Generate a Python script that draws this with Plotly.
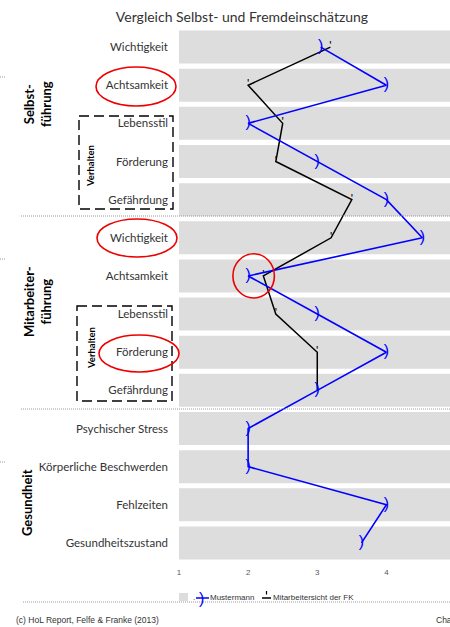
import plotly.graph_objects as go

# ---- data -----------------------------------------------------------------
categories = [
    "Wichtigkeit", "Achtsamkeit", "Lebensstil", "Förderung", "Gefährdung",
    "Wichtigkeit", "Achtsamkeit", "Lebensstil", "Förderung", "Gefährdung",
    "Psychischer Stress", "Körperliche Beschwerden", "Fehlzeiten", "Gesundheitszustand",
]
mustermann = [3.05, 4.0, 2.0, 3.0, 4.0, 4.52, 2.0, 3.0, 4.0, 3.0, 2.0, 2.0, 4.0, 3.64]
fk_sicht = [3.19, 2.0, 2.5, 2.4, 3.5, 3.2, 2.22, 2.4, 3.0, 3.0, None, None, None, None]
scale_max = [5, 5, 5, 5, 5, 5, 5, 5, 5, 5, 5, 5, 5, 5]
x_ticks = [1, 2, 3, 4]

positions = list(range(len(categories)))

# ---- geometry (pixels) ----------------------------------------------------
W, H = 450, 627
PL, PR, PT, PB = 179, 450, 28, 562


def px(x):
    return (x - PL) / (PR - PL)


def py(y):
    return (PB - y) / (PB - PT)


LABEL_FONT = "Lato, 'Open Sans', sans-serif"
SMALL_FONT = "'Liberation Sans', Arial, sans-serif"
TEXT_COL = "#333333"

fig = go.Figure()

# grey background band for every row
fig.add_trace(go.Bar(
    x=scale_max, y=positions, orientation="h",
    marker=dict(color="#dddddd", line=dict(width=0)),
    hoverinfo="skip", showlegend=False,
))

# manager view (black)
fig.add_trace(go.Scatter(
    x=fk_sicht, y=positions, mode="lines+text",
    line=dict(color="black", width=1.5),
    text=["'"] * len(fk_sicht), textposition="middle center",
    textfont=dict(family=SMALL_FONT, size=12, color="black"),
    connectgaps=False, cliponaxis=False, showlegend=False,
    name="Mitarbeitersicht der FK",
))

# self assessment (blue)
fig.add_trace(go.Scatter(
    x=mustermann, y=positions, mode="lines+text",
    line=dict(color="#0000ff", width=1.6),
    text=[")"] * len(mustermann), textposition="middle center",
    textfont=dict(family=SMALL_FONT, size=16, color="#0000ff"),
    cliponaxis=False, showlegend=False,
    name="Mustermann",
))

shapes = []
annotations = []

DOTTED = dict(color="#9a9a9a", width=1, dash="1px,1px")

# dotted group separators and bottom rule
for yy, x0 in [(216, 21), (409, 21), (602, 23)]:
    shapes.append(dict(type="line", xref="paper", yref="paper",
                       x0=px(x0), x1=px(450), y0=py(yy), y1=py(yy),
                       line=DOTTED, layer="above"))
# short marks at the left edge
for yy in [77, 259, 462]:
    shapes.append(dict(type="line", xref="paper", yref="paper",
                       x0=px(0), x1=px(6), y0=py(yy), y1=py(yy),
                       line=DOTTED))

# dashed "Verhalten" boxes
for (x0, x1, y0, y1) in [(79, 173, 116, 209), (77, 172, 306, 401)]:
    shapes.append(dict(type="rect", xref="paper", yref="paper",
                       x0=px(x0), x1=px(x1), y0=py(y0), y1=py(y1),
                       line=dict(color="black", width=1.4, dash="10px,5px")))

# red highlight ellipses around labels
for (x0, x1, y0, y1) in [(96, 176, 67, 106), (97, 177, 219, 257), (99, 179, 335, 372)]:
    shapes.append(dict(type="circle", xref="paper", yref="paper",
                       x0=px(x0), x1=px(x1), y0=py(y0), y1=py(y1),
                       line=dict(color="#ee0000", width=1.6)))
# red circle on the data
shapes.append(dict(type="circle", xref="x", yref="y",
                   x0=1.78, x1=2.38, y0=5.42, y1=6.58,
                   line=dict(color="#ee0000", width=1.6), layer="above"))

# group titles
for text, xc, yc in [("Selbst-<br>führung", 37, 104),
                     ("Mitarbeiter-<br>führung", 38, 302),
                     ("Gesundheit", 27, 503)]:
    annotations.append(dict(text=f"<b>{text}</b>", x=px(xc), y=py(yc),
                            xref="paper", yref="paper", showarrow=False,
                            textangle=-90, xanchor="center", yanchor="middle",
                            font=dict(family=LABEL_FONT, size=13, color="black")))
for yc in [166, 348]:
    annotations.append(dict(text="<b>Verhalten</b>", x=px(91), y=py(yc),
                            xref="paper", yref="paper", showarrow=False,
                            textangle=-90, xanchor="center", yanchor="middle",
                            font=dict(family=LABEL_FONT, size=9.5, color="black")))

# legend
shapes.append(dict(type="rect", xref="paper", yref="paper",
                   x0=px(179), x1=px(188), y0=py(593), y1=py(601),
                   fillcolor="#dddddd", line=dict(width=0)))
annotations.append(dict(text=".", x=px(191), y=py(597), xref="paper", yref="paper",
                        showarrow=False, xanchor="left", yanchor="middle",
                        font=dict(family=SMALL_FONT, size=8, color=TEXT_COL)))
shapes.append(dict(type="line", xref="paper", yref="paper",
                   x0=px(196), x1=px(209), y0=py(598), y1=py(598),
                   line=dict(color="#0000ff", width=1.5)))
annotations.append(dict(text=")", x=px(201), y=py(598), xref="paper", yref="paper",
                        showarrow=False, xanchor="center", yanchor="middle",
                        font=dict(family=SMALL_FONT, size=16, color="#0000ff")))
annotations.append(dict(text="Mustermann", x=px(208), y=py(597), xref="paper", yref="paper",
                        showarrow=False, xanchor="left", yanchor="middle",
                        font=dict(family=SMALL_FONT, size=8, color=TEXT_COL)))
shapes.append(dict(type="line", xref="paper", yref="paper",
                   x0=px(262), x1=px(271), y0=py(598), y1=py(598),
                   line=dict(color="black", width=1.5)))
shapes.append(dict(type="line", xref="paper", yref="paper",
                   x0=px(266.5), x1=px(266.5), y0=py(591), y1=py(594.5),
                   line=dict(color="black", width=1.2)))
annotations.append(dict(text="Mitarbeitersicht der FK", x=px(271), y=py(597),
                        xref="paper", yref="paper", showarrow=False,
                        xanchor="left", yanchor="middle",
                        font=dict(family=SMALL_FONT, size=8, color=TEXT_COL)))

# footer
annotations.append(dict(text="(c) HoL Report, Felfe & Franke (2013)", x=px(14), y=py(620),
                        xref="paper", yref="paper", showarrow=False,
                        xanchor="left", yanchor="middle",
                        font=dict(family=SMALL_FONT, size=8.5, color=TEXT_COL)))
annotations.append(dict(text="Cha", x=px(434), y=py(620),
                        xref="paper", yref="paper", showarrow=False,
                        xanchor="left", yanchor="middle",
                        font=dict(family=SMALL_FONT, size=8.5, color=TEXT_COL)))

fig.update_layout(
    width=W, height=H,
    margin=dict(l=PL, r=W - PR, t=PT, b=H - PB, pad=0),
    paper_bgcolor="white", plot_bgcolor="white",
    bargap=0.135,
    showlegend=False,
    title=dict(text="Vergleich Selbst- und Fremdeinschätzung",
               x=242 / W, xanchor="center", xref="container",
               y=1 - 17 / H, yanchor="middle", yref="container",
               font=dict(family=LABEL_FONT, size=14, color=TEXT_COL)),
    xaxis=dict(range=[1, 4.92], tickvals=x_ticks, ticktext=[str(t) for t in x_ticks],
               showgrid=False, zeroline=False, showline=False, ticks="",
               tickfont=dict(family=SMALL_FONT, size=8, color="#595959"),
               ticklabelstandoff=4, fixedrange=True),
    yaxis=dict(range=[len(categories) - 0.5, -0.5], tickvals=positions,
               ticktext=categories, showgrid=False, zeroline=False, showline=False,
               ticks="", ticklabelstandoff=10,
               tickfont=dict(family=LABEL_FONT, size=11.5, color=TEXT_COL),
               fixedrange=True),
    shapes=shapes, annotations=annotations,
)

fig.write_html("out.html")
